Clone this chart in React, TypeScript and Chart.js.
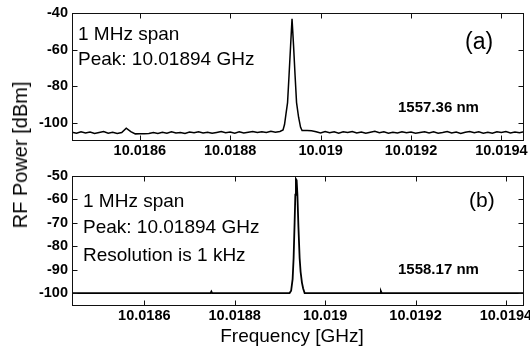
import React, { useEffect, useRef } from "react";
import { Chart, registerables } from "chart.js";

Chart.register(...registerables);

const FONT = "'Liberation Sans', Arial, Helvetica, sans-serif";

// ---- axes ----
const xTickValues = [10.0186, 10.0188, 10.019, 10.0192, 10.0194];
const xTickLabels = ["10.0186", "10.0188", "10.019", "10.0192", "10.0194"];
const topYTicks = [-40, -60, -80, -100];
const bottomYTicks = [-50, -60, -70, -80, -90, -100];
const topXRange = [10.01845, 10.01945];
const topYRange = [-110, -40];
const bottomXRange = [10.01844, 10.01944];
const bottomYRange = [-105.5, -50];

// ---- panel (a) trace ----
const topNoiseStepGHz = 0.00001;
const topNoiseLeftStartGHz = 10.01845;
const topNoiseLeftDbm = [
  -105.2, -105.8, -104.9, -105.6, -105.1, -105.9, -105.3, -104.8, -105.7, -105.2,
  -105.9, -105.4, -103.0, -104.9, -106.1, -106.0, -106.0, -105.9, -105.4, -105.9,
  -105.2, -105.7, -105.0, -105.6, -105.3, -105.9, -105.1, -105.5, -104.9, -105.6,
  -105.2, -105.8, -105.3, -104.8, -105.5, -105.1, -105.7, -105.0, -105.6, -105.2,
  -104.8, -105.4, -104.9, -105.3, -104.7, -105.2, -104.8,
];
const topPeakFreqGHz = [
  10.0189169, 10.0189202, 10.0189235, 10.0189269, 10.0189302, 10.0189335, 10.0189368,
  10.0189402, 10.0189435, 10.0189468, 10.0189513, 10.0189557, 10.018959,
];
const topPeakDbm = [-104.0, -101.0, -95.0, -89.0, -74.0, -58.5, -43.2, -58.0, -74.0, -89.0, -97.0, -102.5, -104.3];
const topNoiseRightStartGHz = 10.01897;
const topNoiseRightDbm = [
  -104.3, -104.4, -104.9, -105.6, -104.8, -105.5, -104.9, -105.7, -105.0, -105.4,
  -104.8, -105.6, -105.1, -105.8, -105.2, -104.7, -105.5, -105.0, -105.7, -105.2,
  -105.6, -104.9, -105.5, -105.1, -105.8, -105.3, -104.9, -105.6, -105.0, -105.7,
  -105.3, -104.8, -105.6, -105.1, -105.9, -105.2, -104.8, -105.5, -105.0, -105.7,
  -105.2, -105.8, -104.9, -105.4, -104.8, -105.6, -105.1, -105.5, -105.0,
];

// ---- panel (b) trace ----
const bottomFreqGHz = [
  10.01844, 10.0187465, 10.0187483, 10.01875, 10.0189214, 10.0189248, 10.0189281,
  10.0189303, 10.0189325, 10.0189341, 10.0189354, 10.018937, 10.0189387, 10.018941,
  10.0189436, 10.0189458, 10.0189487, 10.0189514, 10.0189547, 10.0191215, 10.0191234,
  10.0191253, 10.01944,
];
const bottomDbm = [
  -100, -100, -99.3, -100, -100, -99, -94, -85, -70, -58, -51.3, -51.8, -58, -72,
  -85, -91, -95.5, -98, -100, -100, -99.2, -100, -100,
];

// ---- texts ----
const topNotes = ["1 MHz span", "Peak: 10.01894 GHz"];
const topTag = "(a)";
const topWavelength = "1557.36 nm";
const bottomNotes = ["1 MHz span", "Peak: 10.01894 GHz", "Resolution is 1 kHz"];
const bottomTag = "(b)";
const bottomWavelength = "1558.17 nm";
const yTitle = "RF Power [dBm]";
const xTitle = "Frequency [GHz]";

type Note = { text: string; x: number; y: number; font: string };

function buildTopPoints() {
  const pts: { x: number; y: number }[] = [];
  topNoiseLeftDbm.forEach((v, i) => pts.push({ x: topNoiseLeftStartGHz + i * topNoiseStepGHz, y: v }));
  topPeakFreqGHz.forEach((f, i) => pts.push({ x: f, y: topPeakDbm[i] }));
  topNoiseRightDbm.forEach((v, i) => pts.push({ x: topNoiseRightStartGHz + i * topNoiseStepGHz, y: v }));
  return pts;
}

function buildBottomPoints() {
  return bottomFreqGHz.map((f, i) => ({ x: f, y: bottomDbm[i] }));
}

function framePlugin(notes: Note[]) {
  return {
    id: "frame",
    afterDraw(chart: any) {
      const { ctx, chartArea: a, scales } = chart;
      const L = 5;
      ctx.save();
      ctx.strokeStyle = "#111";
      ctx.lineWidth = 1;
      const l = Math.round(a.left) + 0.5;
      const r = Math.round(a.right) - 0.5;
      const t = Math.round(a.top) + 0.5;
      const b = Math.round(a.bottom) - 0.5;
      ctx.strokeRect(l, t, r - l, b - t);
      ctx.beginPath();
      for (const tk of scales.x.ticks) {
        const px = Math.round(scales.x.getPixelForValue(tk.value)) + 0.5;
        ctx.moveTo(px, b);
        ctx.lineTo(px, b - L);
        ctx.moveTo(px, t);
        ctx.lineTo(px, t + L);
      }
      for (const tk of scales.y.ticks) {
        const py = Math.round(scales.y.getPixelForValue(tk.value)) + 0.5;
        ctx.moveTo(l, py);
        ctx.lineTo(l + L, py);
        ctx.moveTo(r, py);
        ctx.lineTo(r - L, py);
      }
      ctx.stroke();
      ctx.fillStyle = "#000";
      ctx.textAlign = "left";
      ctx.textBaseline = "alphabetic";
      for (const n of notes) {
        ctx.font = n.font;
        ctx.fillText(n.text, n.x, n.y);
      }
      ctx.restore();
    },
  };
}

type PanelProps = {
  top: number;
  height: number;
  points: { x: number; y: number }[];
  xRange: number[];
  yRange: number[];
  yTicks: number[];
  padTop: number;
  xAxisHeight: number;
  notes: Note[];
  lineWidth: number;
};

function Panel(p: PanelProps) {
  const ref = useRef<HTMLCanvasElement | null>(null);
  useEffect(() => {
    if (!ref.current) return;
    const tickFont = { family: FONT, size: 14.5, weight: "bold" as const };
    const chart = new Chart(ref.current, {
      type: "line",
      data: {
        datasets: [
          {
            data: p.points,
            borderColor: "#000",
            borderWidth: p.lineWidth,
            pointRadius: 0,
            tension: 0,
            fill: false,
          },
        ],
      },
      options: {
        animation: false,
        responsive: false,
        devicePixelRatio: 1,
        layout: { padding: { top: p.padTop, right: 6, left: 0, bottom: 0 } },
        plugins: { legend: { display: false }, tooltip: { enabled: false } },
        scales: {
          x: {
            type: "linear",
            min: p.xRange[0],
            max: p.xRange[1],
            grid: { display: false, drawTicks: false },
            border: { display: false },
            afterBuildTicks: (axis: any) => {
              axis.ticks = xTickValues.map((v) => ({ value: v }));
            },
            afterFit: (axis: any) => {
              axis.height = p.xAxisHeight;
              axis.paddingLeft = 0;
              axis.paddingRight = 0;
            },
            ticks: {
              autoSkip: false,
              maxRotation: 0,
              padding: 1.5,
              color: "#000",
              font: tickFont,
              callback: (_v: any, i: number) => xTickLabels[i],
            },
          },
          y: {
            type: "linear",
            min: p.yRange[0],
            max: p.yRange[1],
            grid: { display: false, drawTicks: false },
            border: { display: false },
            afterBuildTicks: (axis: any) => {
              axis.ticks = p.yTicks.map((v) => ({ value: v }));
            },
            afterFit: (axis: any) => {
              axis.width = 72;
              axis.paddingTop = 0;
              axis.paddingBottom = 0;
            },
            ticks: {
              autoSkip: false,
              padding: 4,
              color: "#000",
              font: tickFont,
              callback: (v: any) => String(v),
            },
          },
        },
      },
      plugins: [framePlugin(p.notes)],
    } as any);
    return () => chart.destroy();
  }, []);
  return (
    <canvas
      ref={ref}
      width={530}
      height={p.height}
      style={{ position: "absolute", left: 0, top: p.top, width: 530, height: p.height, display: "block" }}
    />
  );
}

export default function App() {
  const noteFont = `19px ${FONT}`;
  const topNotesDef: Note[] = [
    { text: topNotes[0], x: 78, y: 39.5, font: noteFont },
    { text: topNotes[1], x: 78, y: 64.5, font: noteFont },
    { text: topTag, x: 465, y: 48.5, font: `23px ${FONT}` },
    { text: topWavelength, x: 398, y: 111.5, font: `bold 15px ${FONT}` },
  ];
  const bottomNotesDef: Note[] = [
    { text: bottomNotes[0], x: 83, y: 56.7, font: noteFont },
    { text: bottomNotes[1], x: 83, y: 83.3, font: noteFont },
    { text: bottomNotes[2], x: 83, y: 111, font: noteFont },
    { text: bottomTag, x: 469, y: 57.3, font: `21px ${FONT}` },
    { text: bottomWavelength, x: 398, y: 124.3, font: `bold 15px ${FONT}` },
  ];
  return (
    <div style={{ position: "absolute", left: 0, top: 0, width: 530, height: 349, background: "#fff", overflow: "hidden" }}>
      <Panel
        top={0}
        height={175}
        points={buildTopPoints()}
        xRange={topXRange}
        yRange={topYRange}
        yTicks={topYTicks}
        padTop={13}
        xAxisHeight={34}
        notes={topNotesDef}
        lineWidth={1.5}
      />
      <Panel
        top={150}
        height={199}
        points={buildBottomPoints()}
        xRange={bottomXRange}
        yRange={bottomYRange}
        yTicks={bottomYTicks}
        padTop={26}
        xAxisHeight={43}
        notes={bottomNotesDef}
        lineWidth={1.8}
      />
      <div
        style={{
          position: "absolute",
          left: 20,
          top: 155,
          transform: "translate(-50%, -50%) rotate(-90deg)",
          font: `20px ${FONT}`,
          lineHeight: "20px",
          whiteSpace: "nowrap",
          color: "#000",
        }}
      >
        {yTitle}
      </div>
      <div
        style={{
          position: "absolute",
          left: 292,
          top: 335,
          transform: "translate(-50%, -50%)",
          font: `19px ${FONT}`,
          lineHeight: "19px",
          whiteSpace: "nowrap",
          color: "#000",
        }}
      >
        {xTitle}
      </div>
    </div>
  );
}
